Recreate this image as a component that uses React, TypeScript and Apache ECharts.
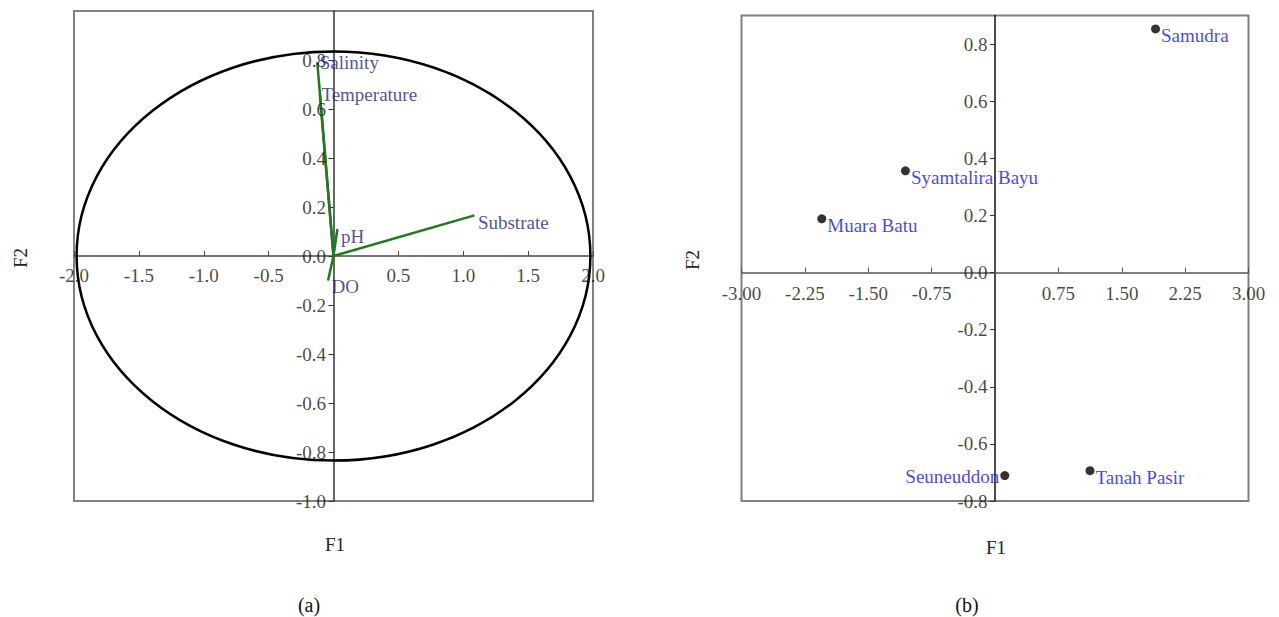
import React, { useEffect, useRef } from "react";
import * as echarts from "echarts";

// ---- Data: (a) correlation circle ----
const varNames = ["Salinity", "Temperature", "pH", "DO", "Substrate"];
const varF1 = [-0.125, -0.105, 0.03, -0.042, 1.086];
const varF2 = [0.79, 0.66, 0.11, -0.1, 0.166];
const circle = [0, 0, 1.98, 0.835]; // cx, cy, rx, ry

const aXLabels = [-2, -1.5, -1, -0.5, 0.5, 1, 1.5, 2];
const aXTicks = [-2, -1.5, -1, -0.5, 0, 0.5, 1, 1.5, 2];
const aYLabels = [-1, -0.8, -0.6, -0.4, -0.2, 0, 0.2, 0.4, 0.6, 0.8];

// ---- Data: (b) observations ----
const siteNames = ["Samudra", "Syamtalira Bayu", "Muara Batu", "Seuneuddon", "Tanah Pasir"];
const siteF1 = [1.9, -1.06, -2.05, 0.116, 1.124];
const siteF2 = [0.853, 0.356, 0.188, -0.711, -0.694];

const bXLabels = [-3, -2.25, -1.5, -0.75, 0.75, 1.5, 2.25, 3];
const bXTicks = [-3, -2.25, -1.5, -0.75, 0, 0.75, 1.5, 2.25, 3];
const bYLabels = [-0.8, -0.6, -0.4, -0.2, 0, 0.2, 0.4, 0.6, 0.8];

const FONT = "Liberation Serif";
const FS = 19;

function tickLabelSeries(
  name: string,
  axisIdx: number,
  values: number[],
  onX: boolean,
  digits: number,
  distance: number
) {
  return {
    type: "scatter",
    name,
    xAxisIndex: axisIdx,
    yAxisIndex: axisIdx,
    symbolSize: 1,
    silent: true,
    itemStyle: { color: "rgba(0,0,0,0)" },
    data: values.map((v) => (onX ? [v, 0] : [0, v])),
    label: {
      show: true,
      position: onX ? "bottom" : "left",
      distance,
      color: "#151515",
      fontFamily: FONT,
      fontSize: FS,
      formatter: (p: any) => Number(p.value[onX ? 0 : 1]).toFixed(digits),
    },
    z: 3,
  };
}

export default function App() {
  const ref = useRef<HTMLDivElement>(null);

  useEffect(() => {
    if (!ref.current) return;
    const chart = echarts.init(ref.current, undefined, { renderer: "svg" });

    const varLabelCfg: any[] = [
      { position: "right", distance: 2, offset: [0, 0] },
      { position: "right", distance: 1, offset: [0, 0] },
      { position: "right", distance: 3, offset: [0, 7] },
      { position: "right", distance: 3, offset: [0, 6] },
      { position: "right", distance: 3, offset: [0, 7] },
    ];
    const siteLabelCfg: any[] = [
      { position: "right", distance: 1, offset: [0, 7] },
      { position: "right", distance: 1, offset: [0, 7] },
      { position: "right", distance: 1, offset: [0, 7] },
      { position: "left", distance: 1, offset: [0, 1] },
      { position: "right", distance: 1, offset: [0, 7] },
    ];

    const option: any = {
      animation: false,
      backgroundColor: "#fff",
      grid: [
        { left: 74, top: 11, width: 519, height: 490, show: true, borderColor: "#808080", borderWidth: 2, backgroundColor: "transparent" },
        { left: 741.5, top: 15.5, width: 507, height: 485.5, show: true, borderColor: "#808080", borderWidth: 2, backgroundColor: "transparent" },
      ],
      xAxis: [
        {
          gridIndex: 0, type: "value", min: -2, max: 2, interval: 0.5,
          axisLine: { onZero: true, lineStyle: { color: "#4a4a4a", width: 1.5 } },
          axisTick: { inside: true, length: 5, customValues: aXTicks, lineStyle: { color: "#4a4a4a" } },
          axisLabel: { show: false },
          splitLine: { show: false },
        },
        {
          gridIndex: 1, type: "value", min: -3, max: 3, interval: 0.75,
          axisLine: { onZero: true, lineStyle: { color: "#555", width: 1.5 } },
          axisTick: { inside: true, length: 5, customValues: bXTicks, lineStyle: { color: "#555" } },
          axisLabel: { show: false },
          splitLine: { show: false },
        },
      ],
      yAxis: [
        {
          gridIndex: 0, type: "value", min: -1, max: 1, interval: 0.2,
          axisLine: { onZero: true, lineStyle: { color: "#333", width: 1.5 } },
          axisTick: { inside: false, length: 5, customValues: aYLabels, lineStyle: { color: "#333" } },
          axisLabel: { show: false },
          splitLine: { show: false },
        },
        {
          gridIndex: 1, type: "value", min: -0.8, max: 0.9, interval: 0.2,
          axisLine: { onZero: true, lineStyle: { color: "#111", width: 1.5 } },
          axisTick: { inside: false, length: 5, customValues: bYLabels, lineStyle: { color: "#333" } },
          axisLabel: { show: false },
          splitLine: { show: false },
        },
      ],
      series: [
        tickLabelSeries("aX", 0, aXLabels, true, 1, 9),
        tickLabelSeries("aY", 0, aYLabels, false, 1, 7),
        tickLabelSeries("bX", 1, bXLabels, true, 2, 11),
        tickLabelSeries("bY", 1, bYLabels, false, 1, 7),
        {
          type: "custom",
          name: "circle",
          xAxisIndex: 0, yAxisIndex: 0,
          data: [circle],
          silent: true,
          renderItem: (params: any, api: any) => {
            const c = api.coord([api.value(0), api.value(1)]);
            const s = api.size([api.value(2), api.value(3)]);
            return {
              type: "ellipse",
              shape: { cx: c[0], cy: c[1], rx: s[0], ry: s[1] },
              style: { fill: "none", stroke: "#000", lineWidth: 2.5 },
            };
          },
        },
        {
          type: "custom",
          name: "vectors",
          xAxisIndex: 0, yAxisIndex: 0,
          data: varF1.map((x, i) => [x, varF2[i]]),
          silent: true,
          renderItem: (params: any, api: any) => {
            const o = api.coord([0, 0]);
            const e = api.coord([api.value(0), api.value(1)]);
            return {
              type: "line",
              shape: { x1: o[0], y1: o[1], x2: e[0], y2: e[1] },
              style: { stroke: "#1d7a1d", lineWidth: 2.5 },
            };
          },
        },
        {
          type: "scatter",
          name: "varLabels",
          xAxisIndex: 0, yAxisIndex: 0,
          symbolSize: 1,
          itemStyle: { color: "rgba(0,0,0,0)" },
          data: varF1.map((x, i) => ({
            value: [x, varF2[i]],
            name: varNames[i],
            label: {
              show: true,
              formatter: varNames[i],
              color: "#22228c",
              fontFamily: FONT,
              fontSize: FS,
              ...varLabelCfg[i],
            },
          })),
          z: 4,
        },
        {
          type: "scatter",
          name: "sites",
          xAxisIndex: 1, yAxisIndex: 1,
          symbolSize: 9,
          itemStyle: { color: "#000" },
          data: siteF1.map((x, i) => ({
            value: [x, siteF2[i]],
            name: siteNames[i],
            label: {
              show: true,
              formatter: siteNames[i],
              color: "#1010ff",
              fontFamily: FONT,
              fontSize: FS,
              ...siteLabelCfg[i],
            },
          })),
          z: 4,
        },
      ],
      graphic: [
        { type: "text", x: 335, y: 544, style: { text: "F1", font: `${FS}px "${FONT}"`, fill: "#222", align: "center", verticalAlign: "middle" } },
        { type: "text", x: 20, y: 258, rotation: Math.PI / 2, style: { text: "F2", font: `${FS}px "${FONT}"`, fill: "#222", align: "center", verticalAlign: "middle" } },
        { type: "text", x: 309, y: 605, style: { text: "(a)", font: `20px "${FONT}"`, fill: "#111", align: "center", verticalAlign: "middle" } },
        { type: "text", x: 996, y: 547, style: { text: "F1", font: `${FS}px "${FONT}"`, fill: "#222", align: "center", verticalAlign: "middle" } },
        { type: "text", x: 692, y: 260, rotation: Math.PI / 2, style: { text: "F2", font: `${FS}px "${FONT}"`, fill: "#222", align: "center", verticalAlign: "middle" } },
        { type: "text", x: 967, y: 605, style: { text: "(b)", font: `20px "${FONT}"`, fill: "#111", align: "center", verticalAlign: "middle" } },
      ],
    };

    chart.setOption(option);
    return () => chart.dispose();
  }, []);

  return (
    <div
      ref={ref}
      style={{ position: "absolute", left: 0, top: 0, width: 1279, height: 617 }}
    />
  );
}
